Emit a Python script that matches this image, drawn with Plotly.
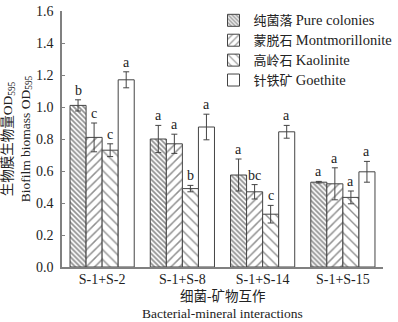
import plotly.graph_objects as go

categories = ["S-1+S-2", "S-1+S-8", "S-1+S-14", "S-1+S-15"]
series_cn = ["纯菌落", "蒙脱石", "高岭石", "针铁矿"]
series_en = ["Pure colonies", "Montmorillonite", "Kaolinite", "Goethite"]
pure = [1.01, 0.80, 0.575, 0.53]
montmorillonite = [0.81, 0.77, 0.47, 0.52]
kaolinite = [0.73, 0.49, 0.33, 0.435]
goethite = [1.17, 0.875, 0.845, 0.595]
pure_err = [0.035, 0.085, 0.10, 0.005]
mont_err = [0.09, 0.06, 0.045, 0.10]
kaol_err = [0.04, 0.02, 0.055, 0.04]
goet_err = [0.05, 0.08, 0.04, 0.065]
pure_lbl = ["b", "a", "a", "a"]
mont_lbl = ["c", "a", "bc", "a"]
kaol_lbl = ["c", "b", "c", "a"]
goet_lbl = ["a", "a", "a", "a"]

values = [pure, montmorillonite, kaolinite, goethite]
errors = [pure_err, mont_err, kaol_err, goet_err]
labels = [pure_lbl, mont_lbl, kaol_lbl, goet_lbl]
patterns = [dict(shape="\\", size=3.5, solidity=0.5, fgcolor="#222222", bgcolor="white"),
            dict(shape="/", size=6, solidity=0.25, fgcolor="#222222", bgcolor="white"),
            dict(shape="\\", size=7, solidity=0.2, fgcolor="#222222", bgcolor="white"),
            dict(shape="", fgcolor="#222222", bgcolor="white")]

FONT = "Liberation Serif, Noto Sans CJK SC, serif"

fig = go.Figure()
for i in range(4):
    fig.add_trace(go.Bar(
        x=categories, y=values[i],
        name=series_cn[i] + " <span style='font-size:14.5px'>" + series_en[i] + "</span>",
        marker=dict(color="white", pattern=patterns[i], line=dict(color="#444444", width=1)),
        error_y=dict(type="data", array=errors[i], visible=True, color="#444444", thickness=1, width=3),
    ))

fig.update_layout(
    barmode="group", bargap=0.2, bargroupgap=0,
    width=398, height=322,
    margin=dict(l=62, r=15, t=11, b=55, autoexpand=False),
    plot_bgcolor="white", paper_bgcolor="white",
    font=dict(family=FONT, size=14, color="#222222"),
    showlegend=True,
    legend=dict(x=0.472, y=1.022, xanchor="left", yanchor="top", font=dict(size=13, family=FONT),
                bgcolor="rgba(0,0,0,0)", tracegroupgap=0, itemwidth=30),
    yaxis=dict(range=[0, 1.6], dtick=0.2, tickformat=".1f", showgrid=False, zeroline=False,
               showline=True, linecolor="#808080", linewidth=1.5, ticks="inside", ticklen=3,
               tickcolor="#808080", ticklabelstandoff=4,
               title=dict(text="生物膜生物量OD<sub>595</sub><br>Biofilm biomass OD<sub>595</sub>",
                          font=dict(size=13.5), standoff=4)),
    xaxis=dict(showgrid=False, showline=True, linecolor="#808080", linewidth=1.5, ticks="",
               ticklabelstandoff=-2),
)

# x-axis title (two lines)
fig.add_annotation(x=0.5, y=-0.117, xref="paper", yref="paper", text="细菌-矿物互作",
                   showarrow=False, yanchor="middle", font=dict(size=13.5, family=FONT))
fig.add_annotation(x=0.5, y=-0.18, xref="paper", yref="paper", text="Bacterial-mineral interactions",
                   showarrow=False, yanchor="middle", font=dict(size=13.5, family=FONT))

# significance letters above error bars
offsets = [-0.3, -0.1, 0.1, 0.3]
for i in range(4):
    for j, c in enumerate(categories):
        fig.add_annotation(x=j + offsets[i], y=values[i][j] + errors[i][j], xref="x", yref="y",
                           text=labels[i][j], showarrow=False, yanchor="bottom", yshift=0,
                           font=dict(size=14, family=FONT))

fig.write_html("out.html")
